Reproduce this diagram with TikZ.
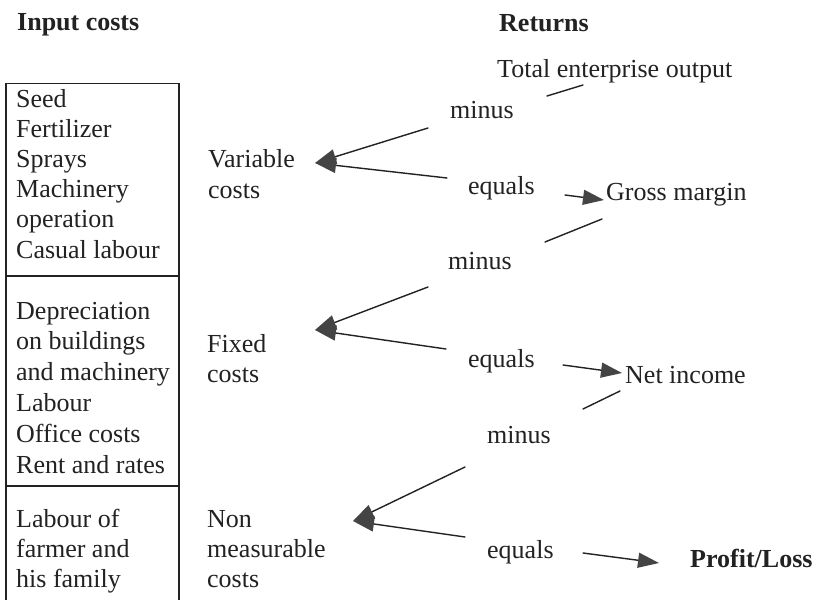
\documentclass[tikz,border=0pt]{standalone}
\usepackage{fontspec}
\setmainfont{Liberation Serif}
\usetikzlibrary{arrows.meta}
\definecolor{ink}{HTML}{222222}
\definecolor{head}{HTML}{444444}
\begin{document}
\begin{tikzpicture}[x=1pt,y=-1pt,
  txt/.style={anchor=base west, inner sep=0pt, text=ink, font=\fontsize{26}{30}\selectfont},
  hdr/.style={txt, font=\fontsize{26}{30}\selectfont\bfseries},
  conn/.style={line width=1.4pt, draw=ink, line cap=round},
  arr/.style={conn, -{Triangle[length=21pt,width=15pt,fill=head,color=head]}},
  boxline/.style={line width=1.3pt, draw=ink}]
\useasboundingbox[fill=white] (0,0) rectangle (815,600);

% headings
\node[hdr] (inhead) at (17,30) {Input costs};
\node[hdr] (rethead) at (499,31) {Returns};
\node[txt] (teo) at (497,77) {Total enterprise output};

% box
\draw[boxline] (6,602) -- (6,83.5) -- (179,83.5) -- (179,602);
\draw[boxline] (6,276) -- (179,276);
\draw[boxline] (6,486) -- (179,486);

\foreach \t [count=\i] in {Seed,Fertilizer,Sprays,Machinery,operation,Casual labour}
  \node[txt] (a\i) at (16,{107+30.2*(\i-1)}) {\t};
\foreach \t [count=\i] in {Depreciation,on buildings,and machinery,Labour,Office costs,Rent and rates}
  \node[txt] (b\i) at (16,{319+30.8*(\i-1)}) {\t};
\foreach \t [count=\i] in {Labour of,farmer and,his family}
  \node[txt] (c\i) at (16,{527+30*(\i-1)}) {\t};

% cost categories
\node[txt] (var1) at (208,167) {Variable};
\node[txt] (var2) at (208,198) {costs};
\node[txt] (fix1) at (207,352) {Fixed};
\node[txt] (fix2) at (207,382) {costs};
\node[txt] (non1) at (207,527) {Non};
\node[txt] (non2) at (207,557) {measurable};
\node[txt] (non3) at (207,587) {costs};

% operators and results
\node[txt] (minus1) at (450,118) {minus};
\node[txt] (equals1) at (468,194) {equals};
\node[txt] (gm) at (606,200) {Gross margin};
\node[txt] (minus2) at (448,269) {minus};
\node[txt] (equals2) at (468,367) {equals};
\node[txt] (ni) at (625,383) {Net income};
\node[txt] (minus3) at (487,443) {minus};
\node[txt] (equals3) at (487,558) {equals};
\node[hdr] (pl) at (690,567) {Profit/Loss};

% connector end points
\coordinate (teoA) at (547,96);  \coordinate (teoB) at (583,85);
\coordinate (vU) at (428,128);   \coordinate (vL) at (447,178);  \coordinate (vT) at (315,163);
\coordinate (gA) at (565,195);   \coordinate (gB) at (604,200);
\coordinate (gmA) at (545,242);  \coordinate (gmB) at (602,219);
\coordinate (fU) at (428,287);   \coordinate (fL) at (446,349);  \coordinate (fT) at (315,330);
\coordinate (nA) at (563,365);   \coordinate (nB) at (622,373);
\coordinate (niA) at (583,409);  \coordinate (niB) at (620,391);
\coordinate (mU) at (465,467);   \coordinate (mL) at (465,537);  \coordinate (mT) at (353,521);
\coordinate (pA) at (583,553);   \coordinate (pB) at (659,563);

\draw[conn] (teoA) -- (teoB);
\draw[arr] (vU) -- (vT);
\draw[arr] (vL) -- (vT);
\draw[arr] (gA) -- (gB);
\draw[conn] (gmA) -- (gmB);
\draw[arr] (fU) -- (fT);
\draw[arr] (fL) -- (fT);
\draw[arr] (nA) -- (nB);
\draw[conn] (niA) -- (niB);
\draw[arr] (mU) -- (mT);
\draw[arr] (mL) -- (mT);
\draw[arr] (pA) -- (pB);
\end{tikzpicture}
\end{document}
